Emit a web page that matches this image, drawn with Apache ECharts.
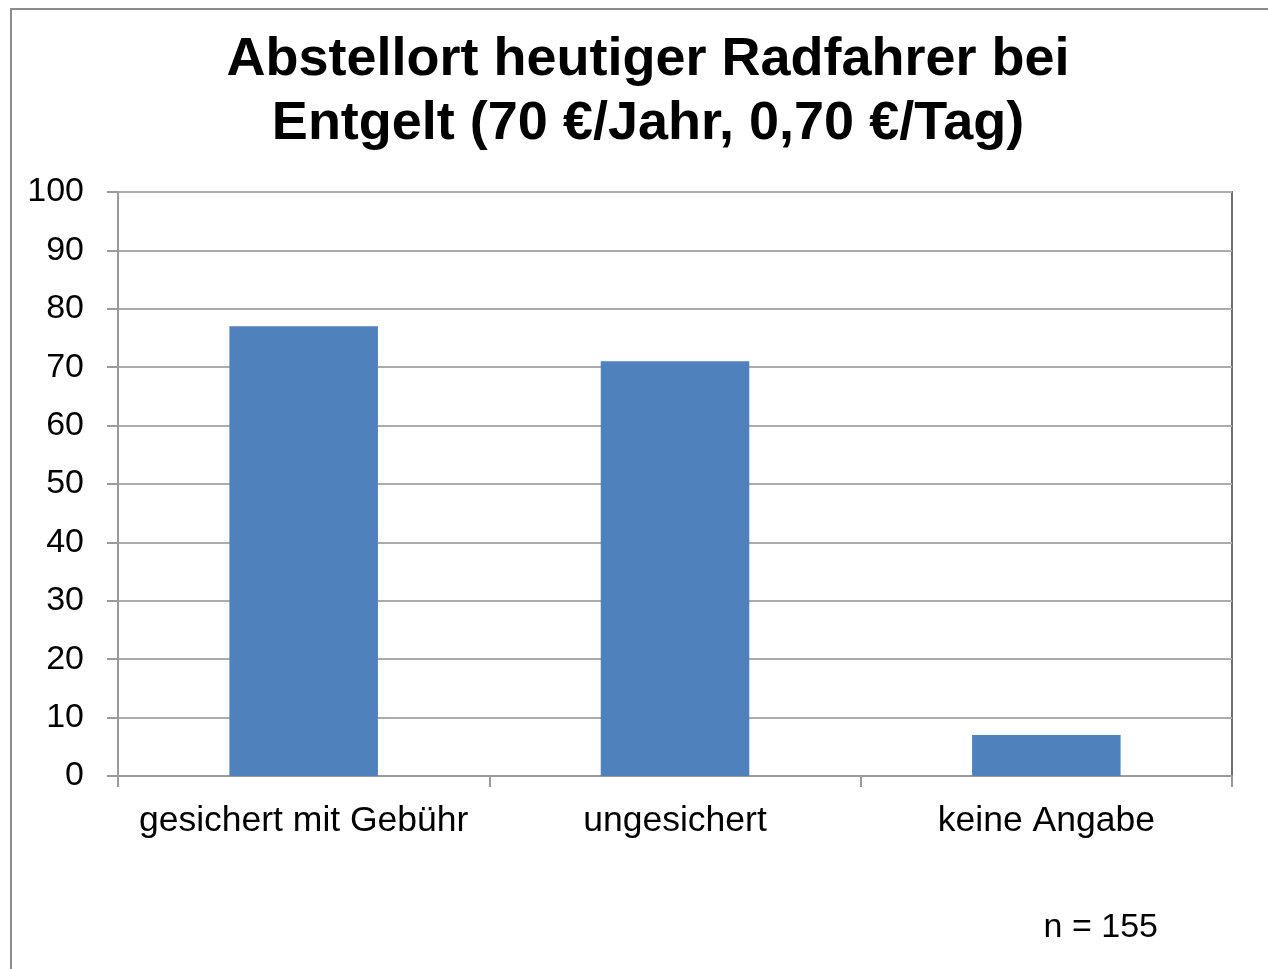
<!DOCTYPE html>
<html style="height: 100%">
  <head>
    <meta charset="UTF-8">
    <meta name="viewport" content="width=device-width, initial-scale=1.0">
  </head>

  <body style="height: 100%; margin: 0; background: #fff">
    <div id="container" style="height: 100%"></div>
    <script type="text/javascript" src="https://fastly.jsdelivr.net/npm/echarts@6.0.0/dist/echarts.min.js"></script>
    <script>
    var dom = document.getElementById('container');
    var myChart = echarts.init(dom, null, {
      renderer: 'canvas',
      useDirtyRect: false
    });

    // data
    let categories = ['gesichert mit Gebühr', 'ungesichert', 'keine Angabe'];
    let values = [77, 71, 7];
    let titleLines = ['Abstellort heutiger Radfahrer bei', 'Entgelt (70 €/Jahr, 0,70 €/Tag)'];
    let note = 'n = 155';

    let font = '"Liberation Sans", Arial, sans-serif';

    var option = {
      animation: false,
      backgroundColor: '#fff',
      graphic: [
        {
          // outer frame, runs off the right and bottom edge
          type: 'rect',
          shape: { x: 11, y: 9, width: 1300, height: 1000 },
          style: { fill: 'none', stroke: '#8c8c8c', lineWidth: 2 }
        },
        {
          type: 'text',
          x: 648,
          y: 28,
          style: {
            text: titleLines.join('\n'),
            font: 'bold 54px ' + font,
            lineHeight: 64,
            align: 'center',
            fill: '#000'
          }
        },
        {
          type: 'text',
          x: 1158,
          y: 911,
          style: {
            text: note,
            font: '34px ' + font,
            align: 'right',
            fill: '#000'
          }
        }
      ],
      grid: {
        left: 118,
        right: 36,
        top: 192,
        bottom: 193,
        show: true,
        borderColor: '#6e6e6e',
        borderWidth: 2
      },
      xAxis: {
        type: 'category',
        data: categories,
        axisLine: { lineStyle: { color: '#9a9a9a', width: 2 } },
        axisTick: { show: true, interval: 0, length: 11, alignWithLabel: false, lineStyle: { color: '#9a9a9a', width: 2 } },
        axisLabel: { interval: 0, color: '#000', fontSize: 35.5, fontFamily: font, margin: 27 }
      },
      yAxis: {
        type: 'value',
        min: 0,
        max: 100,
        interval: 10,
        axisLine: { show: true, lineStyle: { color: '#9a9a9a', width: 2 } },
        axisTick: { show: true, length: 11, lineStyle: { color: '#9a9a9a', width: 2 } },
        splitLine: { lineStyle: { color: '#ababab', width: 2 } },
        axisLabel: { color: '#000', fontSize: 34, fontFamily: font, margin: 34, padding: [3, 0, 0, 0] }
      },
      series: [
        {
          type: 'bar',
          data: values,
          barWidth: '40%',
          itemStyle: { color: '#4f81bd' }
        }
      ]
    };

    if (option && typeof option === 'object') {
      myChart.setOption(option);
    }

    window.addEventListener('resize', myChart.resize);
    </script>
  </body>
</html>
